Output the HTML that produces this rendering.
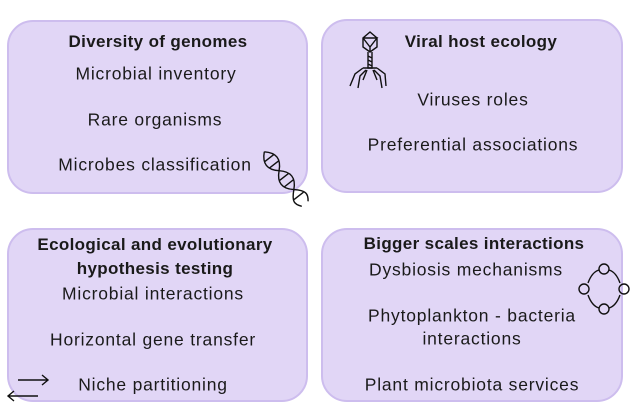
<!DOCTYPE html>
<html><head><style>
body{margin:0;width:634px;height:418px;background:#fff;position:relative;overflow:hidden;font-family:"Liberation Sans",sans-serif;color:#1a1a1a}
.b{position:absolute;background:#e1d6f6;border:2px solid #cdbdee;border-radius:26px;box-sizing:border-box}
.t{position:absolute;white-space:nowrap;font-size:17.5px;letter-spacing:0.8px;transform:translate(-50%,-50%)}
.h{font-weight:bold;font-size:17px;letter-spacing:0.35px}
</style></head><body>
<div class="b" style="left:7px;top:20px;width:301px;height:174px"></div>
<div class="b" style="left:321px;top:19px;width:302px;height:174px"></div>
<div class="b" style="left:7px;top:228px;width:301px;height:174px"></div>
<div class="b" style="left:321px;top:228px;width:302px;height:174px"></div>
<div class="t h" style="left:158px;top:42px">Diversity of genomes</div>
<div class="t" style="left:156px;top:74px">Microbial inventory</div>
<div class="t" style="left:155px;top:120px">Rare organisms</div>
<div class="t" style="left:155px;top:165px">Microbes classification</div>
<div class="t h" style="left:481px;top:42px">Viral host ecology</div>
<div class="t" style="left:473px;top:100px">Viruses roles</div>
<div class="t" style="left:473px;top:145px">Preferential associations</div>
<div class="t h" style="left:155px;top:245px">Ecological and evolutionary</div>
<div class="t h" style="left:155px;top:269px">hypothesis testing</div>
<div class="t" style="left:153px;top:294px">Microbial interactions</div>
<div class="t" style="left:153px;top:340px">Horizontal gene transfer</div>
<div class="t" style="left:153px;top:385px">Niche partitioning</div>
<div class="t h" style="left:474px;top:244px">Bigger scales interactions</div>
<div class="t" style="left:466px;top:270px">Dysbiosis mechanisms</div>
<div class="t" style="left:472px;top:316px">Phytoplankton - bacteria</div>
<div class="t" style="left:472px;top:339px">interactions</div>
<div class="t" style="left:472px;top:385px">Plant microbiota services</div>
<svg width="634" height="418" style="position:absolute;left:0;top:0" fill="none" stroke="#111" stroke-width="1.4">
<g transform="translate(284,177) rotate(52)">
<path d="M-32 0 C-24 -9 -16 -9 -8 0 S8 9 16 0 S28 -9 34 -4"/>
<path d="M-32 0 C-24 9 -16 9 -8 0 S8 -9 16 0 S28 9 34 4"/>
<path d="M-24 -6 L-24 6 M-16 -6 L-16 6 M0 -6 L0 6 M8 -6 L8 6 M24 -6 L24 6"/>
</g>
<path d="M370 32 L377 38 L377 47 L370 52 L363 47 L363 38 Z M363 38 L377 38 L370 47 L363 38 M370 47 L370 52"/>
<path d="M368 52 L368 68 L372 68 L372 52 M368 56 L372 58 M368 60 L372 62 M368 64 L372 66"/>
<path d="M363 68 L377 68 M363 68 L355 74 L350 86 M366 70 L360 76 L358 88 M374 70 L380 76 L382 88 M377 68 L385 74 L386 86 M367 70 L363 80 M373 70 L377 80"/>
<path d="M18 380 L48 380 M42 375 L48 380 L42 385 M38 396 L8 396 M14 391 L8 396 L14 401"/>
<circle cx="604" cy="269" r="5"/><circle cx="584" cy="289" r="5"/><circle cx="624" cy="289" r="5"/><circle cx="604" cy="309" r="5"/>
<path d="M588 283 Q592 272 599 270 M609 270 Q616 272 620 283 M620 295 Q616 306 609 308 M599 308 Q592 306 588 295"/>
</svg>
</body></html>
